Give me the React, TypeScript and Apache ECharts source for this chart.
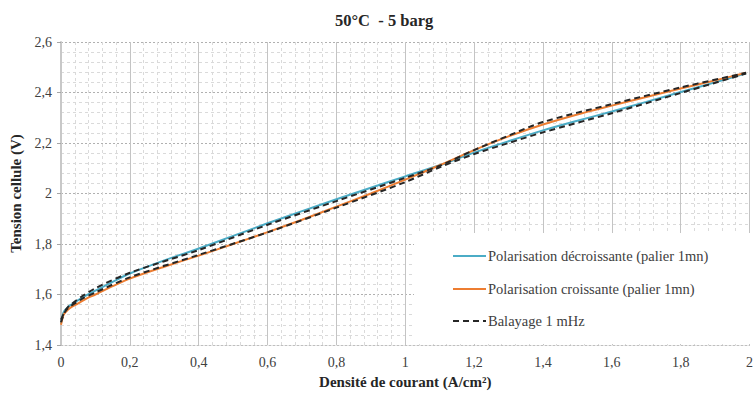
import React, { useEffect, useRef } from "react";
import * as echarts from "echarts";

const title = "50°C  - 5 barg";
const xName = "Densité de courant (A/cm²)";
const yName = "Tension cellule (V)";

const current = [0, 0.005, 0.01, 0.02, 0.03, 0.05, 0.075, 0.1, 0.15, 0.2, 0.3, 0.4, 0.5, 0.6, 0.7, 0.8, 0.9, 1.0, 1.1, 1.2, 1.3, 1.4, 1.5, 1.6, 1.7, 1.8, 1.9, 1.99];
const voltageDecroissante = [1.485, 1.52, 1.535, 1.55, 1.56, 1.578, 1.598, 1.615, 1.65, 1.683, 1.735, 1.782, 1.832, 1.882, 1.93, 1.977, 2.023, 2.068, 2.112, 2.162, 2.207, 2.25, 2.288, 2.325, 2.363, 2.402, 2.44, 2.476];
const voltageCroissante = [1.48, 1.51, 1.525, 1.54, 1.55, 1.565, 1.585, 1.6, 1.633, 1.663, 1.71, 1.754, 1.8, 1.847, 1.896, 1.948, 2.0, 2.055, 2.112, 2.172, 2.226, 2.273, 2.313, 2.348, 2.382, 2.416, 2.448, 2.478];

const sweepCurrent = [0, 0.01, 0.02, 0.04, 0.06, 0.1, 0.2, 0.4, 0.6, 0.8, 1.0, 1.1, 1.2, 1.3, 1.4, 1.6, 1.8, 1.99];
const sweepUpper = [1.5, 1.53, 1.55, 1.572, 1.592, 1.625, 1.686, 1.776, 1.876, 1.97, 2.062, 2.11, 2.172, 2.229, 2.283, 2.354, 2.42, 2.478];
const sweepLower = [1.49, 1.527, 1.545, 1.565, 1.582, 1.608, 1.668, 1.757, 1.846, 1.944, 2.045, 2.104, 2.156, 2.2, 2.242, 2.318, 2.398, 2.475];

const legendNames = [
  "Polarisation décroissante (palier 1mn)",
  "Polarisation croissante (palier 1mn)",
  "Balayage 1 mHz",
];
const colors = ["#4bacc6", "#ed7d31", "#262626"];

const pairs = (xs: number[], ys: number[]) => xs.map((x, i) => [x, ys[i]]);

const fmt = (v: number) => String(Math.round(v * 10) / 10).replace(".", ",");

export default function App() {
  const ref = useRef<HTMLDivElement>(null);
  useEffect(() => {
    if (!ref.current) return;
    const chart = echarts.init(ref.current, undefined, { renderer: "svg" });
    const serif = "Liberation Serif";
    const legendRows = [256, 289, 321];
    const legendGraphics: any[] = [];
    legendNames.forEach((name, i) => {
      legendGraphics.push({
        type: "line",
        shape: { x1: 453, y1: legendRows[i], x2: 486, y2: legendRows[i] },
        style: {
          stroke: colors[i],
          lineWidth: 2,
          lineDash: i === 2 ? [6, 4] : null,
        },
        z: 5,
      });
      legendGraphics.push({
        type: "text",
        x: 488,
        y: legendRows[i],
        style: {
          text: name,
          fontFamily: serif,
          fontSize: 14.5,
          fill: "#404040",
          verticalAlign: "middle",
        },
        z: 5,
      });
    });
    chart.setOption({
      animation: false,
      backgroundColor: "#ffffff",
      textStyle: { fontFamily: serif },
      title: {
        text: title,
        left: 330,
        top: 7,
        textStyle: { fontFamily: serif, fontSize: 16.5, fontWeight: "bold", color: "#262626" },
      },
      grid: { left: 61, right: 5, top: 42, bottom: 49, containLabel: false },
      legend: { show: false, data: legendNames },
      graphic: [
        {
          type: "rect",
          left: 414,
          top: 233,
          shape: { width: 337, height: 111 },
          style: { fill: "#ffffff" },
          z: 3,
        },
        ...legendGraphics,
      ],
      xAxis: {
        type: "value",
        min: 0,
        max: 2,
        interval: 0.2,
        name: xName,
        nameLocation: "middle",
        nameGap: 29,
        nameTextStyle: { fontFamily: serif, fontSize: 15, fontWeight: "bold", color: "#262626" },
        axisLine: { show: true, lineStyle: { color: "#bfbfbf", width: 1, type: [2, 2] } },
        axisTick: { show: false },
        axisLabel: { fontFamily: serif, fontSize: 14, color: "#404040", margin: 10, formatter: fmt },
        splitLine: { show: true, lineStyle: { color: "#c4c4c4", width: 1, type: "solid" } },
        minorTick: { show: false, splitNumber: 5 },
        minorSplitLine: { show: true, lineStyle: { color: "#dadada", width: 1, type: [3, 3] } },
      },
      yAxis: {
        type: "value",
        min: 1.4,
        max: 2.6,
        interval: 0.2,
        name: yName,
        nameLocation: "middle",
        nameGap: 35,
        nameTextStyle: { fontFamily: serif, fontSize: 15, fontWeight: "bold", color: "#262626" },
        axisLine: { show: true, lineStyle: { color: "#c8c8c8", width: 2 } },
        axisTick: { show: true, length: 4, lineStyle: { color: "#a6a6a6" } },
        axisLabel: { fontFamily: serif, fontSize: 14, color: "#404040", margin: 9, formatter: fmt },
        splitLine: { show: true, lineStyle: { color: "#b0b0b0", width: 1, type: [2, 2] } },
        minorTick: { show: false, splitNumber: 5 },
        minorSplitLine: { show: true, lineStyle: { color: "#dadada", width: 1, type: [3, 3] } },
      },
      series: [
        {
          name: legendNames[0],
          type: "line",
          data: pairs(current, voltageDecroissante),
          showSymbol: false,
          symbol: "none",
          smooth: 0.3,
          lineStyle: { color: colors[0], width: 2 },
          itemStyle: { color: colors[0] },
          z: 2,
        },
        {
          name: legendNames[1],
          type: "line",
          data: pairs(current, voltageCroissante),
          showSymbol: false,
          symbol: "none",
          smooth: 0.3,
          lineStyle: { color: colors[1], width: 2 },
          itemStyle: { color: colors[1] },
          z: 2,
        },
        {
          name: legendNames[2],
          type: "line",
          data: pairs(sweepCurrent, sweepUpper),
          showSymbol: false,
          symbol: "none",
          smooth: 0.3,
          lineStyle: { color: colors[2], width: 2, type: [6, 4] },
          itemStyle: { color: colors[2] },
          z: 3,
        },
        {
          name: legendNames[2],
          type: "line",
          data: pairs(sweepCurrent, sweepLower),
          showSymbol: false,
          symbol: "none",
          smooth: 0.3,
          lineStyle: { color: colors[2], width: 2, type: [6, 4] },
          itemStyle: { color: colors[2] },
          z: 3,
        },
      ],
    });
    return () => chart.dispose();
  }, []);
  return (
    <div
      ref={ref}
      style={{ position: "absolute", left: 0, top: 0, width: 756, height: 394 }}
    />
  );
}
